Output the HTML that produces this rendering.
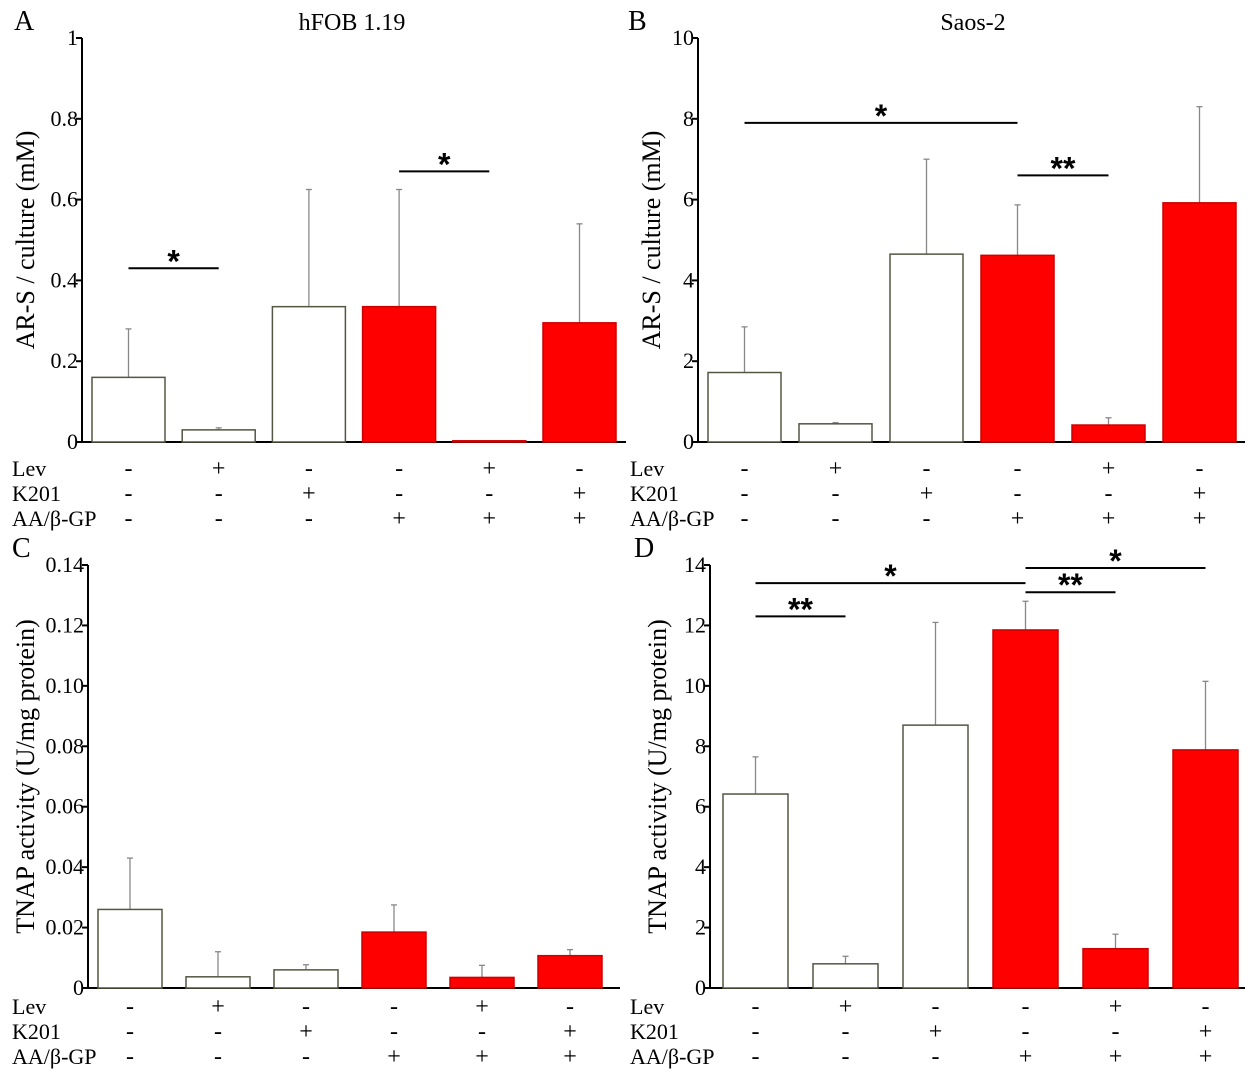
<!DOCTYPE html>
<html><head><meta charset="utf-8"><style>
body{margin:0;background:#fff;width:1255px;height:1080px;overflow:hidden}
svg{font-family:"Liberation Serif",serif}
</style></head><body>
<svg id="fig" width="1255" height="1080"></svg>
<script>
const categories=["1","2","3","4","5","6"];
const levRow=["-","+","-","-","+","-"];
const k201Row=["-","-","+","-","-","+"];
const aaRow=["-","-","-","+","+","+"];
const fills=["#fff","#fff","#fff","#f00","#f00","#f00"];
const aValues=[0.16,0.03,0.335,0.335,0.003,0.295];
const aErrors=[0.12,0.005,0.29,0.29,0,0.245];
const aTicks=["0","0.2","0.4","0.6","0.8","1"];
const bValues=[1.72,0.45,4.65,4.62,0.42,5.92];
const bErrors=[1.13,0.03,2.35,1.25,0.18,2.38];
const bTicks=["0","2","4","6","8","10"];
const cValues=[0.026,0.0037,0.006,0.0185,0.0035,0.0107];
const cErrors=[0.017,0.0083,0.0017,0.009,0.004,0.002];
const cTicks=["0","0.02","0.04","0.06","0.08","0.10","0.12","0.14"];
const dValues=[6.42,0.8,8.7,11.85,1.3,7.88];
const dErrors=[1.23,0.25,3.4,0.95,0.48,2.27];
const dTicks=["0","2","4","6","8","10","12","14"];
const svg=document.getElementById('fig');
const NS="http://www.w3.org/2000/svg";
function mk(tag,attrs,parent){const e=document.createElementNS(NS,tag);for(const k in attrs)e.setAttribute(k,attrs[k]);(parent||svg).appendChild(e);return e;}
function txt(s,x,y,size,anchor,parent){const t=mk('text',{x:x,y:y,'font-size':size,'text-anchor':anchor||'middle'},parent);t.textContent=s;return t;}
function panel(o){
 const g=mk('g',{});
 
 
 const max=parseFloat(o.ticks[o.ticks.length-1]);
 const y=v=>o.bottom-(v/max)*(o.bottom-o.top);
 const x=i=>o.x0+o.gap+i*o.step;
 // axis
 const ax=mk('line',{x1:o.ax,y1:o.top,x2:o.ax,y2:o.bottom,stroke:'#000','stroke-width':2},g);
 
 const bx=mk('line',{x1:o.ax-6,y1:o.bottom,x2:o.xend,y2:o.bottom,stroke:'#000','stroke-width':2},g);
 
 o.ticks.forEach(t=>{const v=parseFloat(t);const yy=y(v);
  mk('line',{x1:o.ax-6,y1:yy,x2:o.ax,y2:yy,stroke:'#000','stroke-width':2},g);
  const l=txt(t,o.ax-4,yy+7,22,'end',g);
  });
 o.values.forEach((v,i)=>{
  const top=o.values[i]+o.errors[i];
  const xc=x(i)+o.bw/2;
  if(o.errors[i]>0){
   const e=mk('line',{x1:xc,y1:y(v),x2:xc,y2:y(top),stroke:'#888','stroke-width':1.3},g);
   
   mk('line',{x1:xc-3,y1:y(top),x2:xc+3,y2:y(top),stroke:'#888','stroke-width':1.3},g);}
  const r=mk('rect',{x:x(i),y:y(v),width:o.bw,height:o.bottom-y(v),fill:fills[i],stroke:fills[i]==='#fff'?'#554':'#c00','stroke-width':1.5},g);
  
  [[levRow,0],[k201Row,1],[aaRow,2]].forEach(([row,k])=>{
   const s=txt(row[i],xc,o.rowY+k*25+8,24,'middle',g);
   });
 });
 ["Lev","K201","AA/β-GP"].forEach((n,k)=>{const l=txt(n,o.labX,o.rowY+k*25+8,22,'start',g);
  });
 o.sig.forEach(s=>{
  const yy=y(s[2]);
  const l=mk('line',{x1:x(s[0])+o.bw/2,y1:yy,x2:x(s[1])+o.bw/2,y2:yy,stroke:'#000','stroke-width':2},g);
  
  const t=mk('text',{x:(x(s[0])+x(s[1]))/2+o.bw/2,y:yy+4,'font-size':32,'text-anchor':'middle','font-family':'Liberation Sans, sans-serif','font-weight':'bold'},g);
  t.textContent=s[3];});
 const L=txt(o.letter,o.letX,o.top-8,28,'start',g);
 if(o.title){const T=txt(o.title,o.titleX,30,24,'middle',g);}
 const yt=txt(o.ylabel,0,0,26,'middle',g);
 yt.setAttribute('transform','translate('+o.ylX+','+((o.top+o.bottom)/2)+') rotate(-90)');
 
}
panel({letter:'A',title:'hFOB 1.19',titleX:352,ax:82,top:38,bottom:442,x0:82,gap:10,step:90.2,bw:73,xend:626,values:aValues,errors:aErrors,ticks:aTicks,
 rowY:468,labX:12,letX:14,ylX:34,ylabel:'AR-S / culture (mM)',sig:[[0,1,0.43,'*'],[3,4,0.67,'*']]});
panel({letter:'B',title:'Saos-2',titleX:973,ax:698,top:38,bottom:442,x0:698,gap:10,step:91,bw:73,xend:1245,values:bValues,errors:bErrors,ticks:bTicks,
 rowY:468,labX:630,letX:628,ylX:660,ylabel:'AR-S / culture (mM)',sig:[[0,3,7.9,'*'],[3,4,6.6,'**']]});
panel({letter:'C',title:null,ax:88,top:565,bottom:988,x0:88,gap:10,step:88,bw:64,xend:620,values:cValues,errors:cErrors,ticks:cTicks,
 rowY:1006,labX:12,letX:12,ylX:34,ylabel:'TNAP activity (U/mg protein)',sig:[]});
panel({letter:'D',title:null,ax:710,top:565,bottom:988,x0:710,gap:13,step:90,bw:65,xend:1245,values:dValues,errors:dErrors,ticks:dTicks,
 rowY:1006,labX:630,letX:634,ylX:666,ylabel:'TNAP activity (U/mg protein)',sig:[[0,3,13.4,'*'],[0,1,12.3,'**'],[3,4,13.1,'**'],[3,5,13.9,'*']]});
</script>
</body></html>
